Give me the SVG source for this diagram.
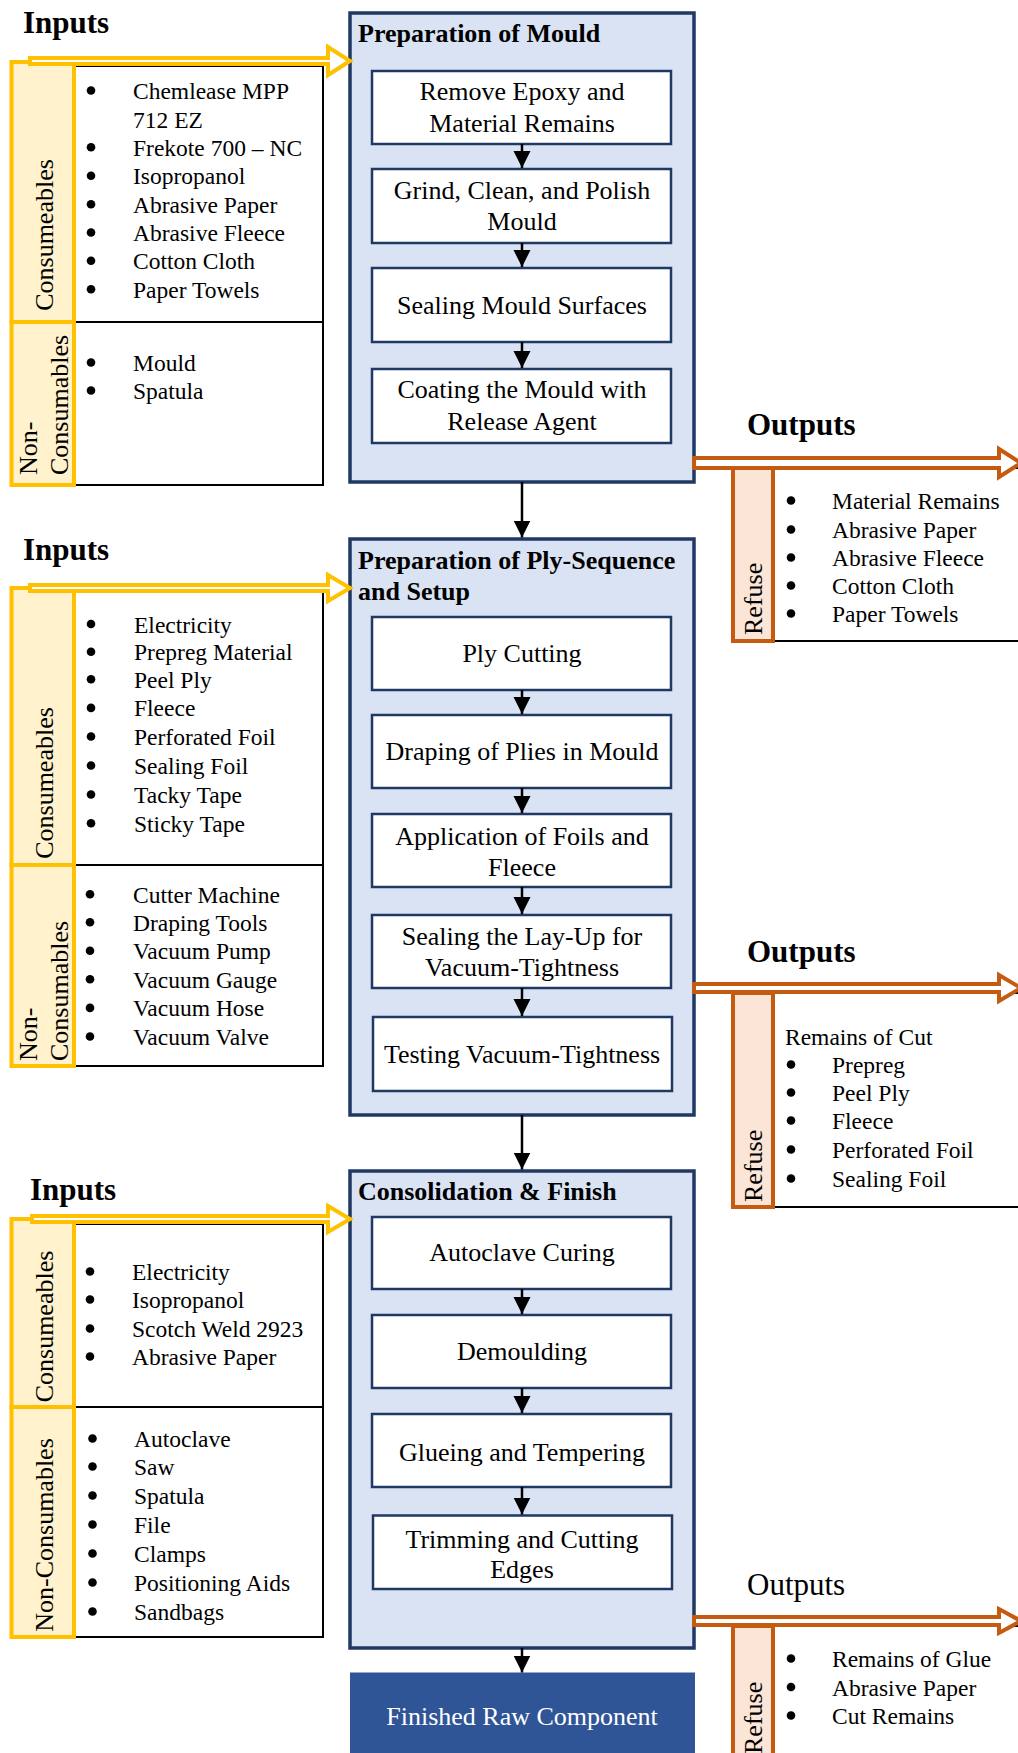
<svg xmlns="http://www.w3.org/2000/svg" width="1018" height="1753" viewBox="0 0 1018 1753">
<style>
text{font-family:"Liberation Serif","Times New Roman",serif;fill:#000}
.hd{font-size:31px;font-weight:bold}
.hr{font-size:31px}
.tt{font-size:26px;font-weight:bold}
.st{font-size:26px;text-anchor:middle}
.li{font-size:23.5px}
.vl{font-size:26px}
.main{fill:#DAE3F3;stroke:#203864;stroke-width:3.5}
.step{fill:#fff;stroke:#203864;stroke-width:2.5}
.ycol{fill:#FFF2CC;stroke:#FFC000;stroke-width:4}
.ocol{fill:#FBE5D6;stroke:#C55A11;stroke-width:4}
.lbox{fill:#fff;stroke:#000;stroke-width:2}
.yarr{fill:#fff;stroke:#FFC000;stroke-width:4}
.oarr{fill:#fff;stroke:#C55A11;stroke-width:4}
.flow{stroke:#000;stroke-width:2.5;fill:none;marker-end:url(#ah)}
.bul{fill:#000}
</style>
<defs>
<marker id="ah" markerWidth="18" markerHeight="18" refX="17" refY="8.5" orient="auto" markerUnits="userSpaceOnUse"><path d="M0,0 L17,8.5 L0,17 z" fill="#000"/></marker>
</defs>

<!-- Inputs panel 1 -->
<g id="inputs1">
<text class="hd" x="23" y="33">Inputs</text>
<rect class="lbox" x="75" y="66" width="248" height="419"/>
<line x1="75" y1="322" x2="323" y2="322" stroke="#000" stroke-width="2"/>
<rect class="ycol" x="11.5" y="62" width="62.5" height="260"/>
<rect class="ycol" x="11.5" y="322" width="62.5" height="163"/>
<text class="vl" transform="translate(52.5,235) rotate(-90)" text-anchor="middle">Consumeables</text>
<text class="vl" transform="translate(36.5,475) rotate(-90)">Non-</text>
<text class="vl" transform="translate(68,475) rotate(-90)">Consumables</text>
<circle class="bul" cx="91" cy="90.5" r="4.3"/><text class="li" x="133" y="99">Chemlease MPP</text>
<text class="li" x="133" y="127.7">712 EZ</text>
<circle class="bul" cx="91" cy="147.2" r="4.3"/><text class="li" x="133" y="155.7">Frekote 700 – NC</text>
<circle class="bul" cx="91" cy="175.8" r="4.3"/><text class="li" x="133" y="184.3">Isopropanol</text>
<circle class="bul" cx="91" cy="204.2" r="4.3"/><text class="li" x="133" y="212.7">Abrasive Paper</text>
<circle class="bul" cx="91" cy="232.5" r="4.3"/><text class="li" x="133" y="241">Abrasive Fleece</text>
<circle class="bul" cx="91" cy="260.8" r="4.3"/><text class="li" x="133" y="269.3">Cotton Cloth</text>
<circle class="bul" cx="91" cy="289.2" r="4.3"/><text class="li" x="133" y="297.7">Paper Towels</text>
<circle class="bul" cx="91" cy="362.5" r="4.3"/><text class="li" x="133" y="371">Mould</text>
<circle class="bul" cx="91" cy="390.5" r="4.3"/><text class="li" x="133" y="399">Spatula</text>
</g>

<!-- Inputs panel 2 -->
<g id="inputs2">
<text class="hd" x="23" y="560">Inputs</text>
<rect class="lbox" x="75" y="592" width="248" height="474"/>
<line x1="75" y1="865" x2="323" y2="865" stroke="#000" stroke-width="2"/>
<rect class="ycol" x="11.5" y="588" width="62.5" height="277"/>
<rect class="ycol" x="11.5" y="865" width="62.5" height="201"/>
<text class="vl" transform="translate(52.5,783) rotate(-90)" text-anchor="middle">Consumeables</text>
<text class="vl" transform="translate(36.5,1061) rotate(-90)">Non-</text>
<text class="vl" transform="translate(68,1061) rotate(-90)">Consumables</text>
<circle class="bul" cx="91" cy="624" r="4.3"/><text class="li" x="134" y="632.5">Electricity</text>
<circle class="bul" cx="91" cy="651.8" r="4.3"/><text class="li" x="134" y="660.3">Prepreg Material</text>
<circle class="bul" cx="91" cy="679.3" r="4.3"/><text class="li" x="134" y="687.8">Peel Ply</text>
<circle class="bul" cx="91" cy="707.9" r="4.3"/><text class="li" x="134" y="716.4">Fleece</text>
<circle class="bul" cx="91" cy="736.5" r="4.3"/><text class="li" x="134" y="745">Perforated Foil</text>
<circle class="bul" cx="91" cy="765.5" r="4.3"/><text class="li" x="134" y="774">Sealing Foil</text>
<circle class="bul" cx="91" cy="794.5" r="4.3"/><text class="li" x="134" y="803">Tacky Tape</text>
<circle class="bul" cx="91" cy="823.3" r="4.3"/><text class="li" x="134" y="831.8">Sticky Tape</text>
<circle class="bul" cx="90" cy="894.3" r="4.3"/><text class="li" x="133" y="902.8">Cutter Machine</text>
<circle class="bul" cx="90" cy="922.2" r="4.3"/><text class="li" x="133" y="930.7">Draping Tools</text>
<circle class="bul" cx="90" cy="950.8" r="4.3"/><text class="li" x="133" y="959.3">Vacuum Pump</text>
<circle class="bul" cx="90" cy="979.3" r="4.3"/><text class="li" x="133" y="987.8">Vacuum Gauge</text>
<circle class="bul" cx="90" cy="1007.9" r="4.3"/><text class="li" x="133" y="1016.4">Vacuum Hose</text>
<circle class="bul" cx="90" cy="1036.5" r="4.3"/><text class="li" x="133" y="1045">Vacuum Valve</text>
</g>

<!-- Inputs panel 3 -->
<g id="inputs3">
<text class="hd" x="30" y="1200">Inputs</text>
<rect class="lbox" x="75" y="1224" width="248" height="413"/>
<line x1="75" y1="1407" x2="323" y2="1407" stroke="#000" stroke-width="2"/>
<rect class="ycol" x="11.5" y="1219" width="62.5" height="188"/>
<rect class="ycol" x="11.5" y="1407" width="62.5" height="230"/>
<text class="vl" transform="translate(52.5,1326.5) rotate(-90)" text-anchor="middle">Consumeables</text>
<text class="vl" transform="translate(52.5,1535) rotate(-90)" text-anchor="middle">Non-Consumables</text>
<circle class="bul" cx="90" cy="1271.5" r="4.3"/><text class="li" x="132" y="1280">Electricity</text>
<circle class="bul" cx="90" cy="1299.5" r="4.3"/><text class="li" x="132" y="1308">Isopropanol</text>
<circle class="bul" cx="90" cy="1328.5" r="4.3"/><text class="li" x="132" y="1337">Scotch Weld 2923</text>
<circle class="bul" cx="90" cy="1356.5" r="4.3"/><text class="li" x="132" y="1365">Abrasive Paper</text>
<circle class="bul" cx="92.5" cy="1438.5" r="4.3"/><text class="li" x="134" y="1447">Autoclave</text>
<circle class="bul" cx="92.5" cy="1466.5" r="4.3"/><text class="li" x="134" y="1475">Saw</text>
<circle class="bul" cx="92.5" cy="1495.5" r="4.3"/><text class="li" x="134" y="1504">Spatula</text>
<circle class="bul" cx="92.5" cy="1524.5" r="4.3"/><text class="li" x="134" y="1533">File</text>
<circle class="bul" cx="92.5" cy="1553.5" r="4.3"/><text class="li" x="134" y="1562">Clamps</text>
<circle class="bul" cx="92.5" cy="1582.5" r="4.3"/><text class="li" x="134" y="1591">Positioning Aids</text>
<circle class="bul" cx="92.5" cy="1611.5" r="4.3"/><text class="li" x="134" y="1620">Sandbags</text>
</g>

<!-- Stage 1 -->
<g id="stage1">
<rect class="main" x="350" y="13" width="344" height="469"/>
<text class="tt" x="358" y="42">Preparation of Mould</text>
</g>
<g id="step1a"><rect class="step" x="372" y="71" width="299" height="73"/><text class="st" x="522" y="100">Remove Epoxy and</text><text class="st" x="522" y="132">Material Remains</text></g>
<g id="step1b"><rect class="step" x="372" y="169" width="299" height="74"/><text class="st" x="522" y="199">Grind, Clean, and Polish</text><text class="st" x="522" y="230">Mould</text></g>
<g id="step1c"><rect class="step" x="372" y="268" width="299" height="74"/><text class="st" x="522" y="314">Sealing Mould Surfaces</text></g>
<g id="step1d"><rect class="step" x="372" y="369" width="299" height="74"/><text class="st" x="522" y="398">Coating the Mould with</text><text class="st" x="522" y="430">Release Agent</text></g>

<!-- Stage 2 -->
<g id="stage2">
<rect class="main" x="350" y="539" width="344" height="576"/>
<text class="tt" x="358" y="569">Preparation of Ply-Sequence</text>
<text class="tt" x="358" y="600">and Setup</text>
</g>
<g id="step2a"><rect class="step" x="372" y="617" width="299" height="73"/><text class="st" x="522" y="662">Ply Cutting</text></g>
<g id="step2b"><rect class="step" x="372" y="715" width="299" height="73"/><text class="st" x="522" y="760">Draping of Plies in Mould</text></g>
<g id="step2c"><rect class="step" x="372" y="814" width="299" height="73"/><text class="st" x="522" y="844.5">Application of Foils and</text><text class="st" x="522" y="876">Fleece</text></g>
<g id="step2d"><rect class="step" x="372" y="915" width="299" height="73"/><text class="st" x="522" y="944.7">Sealing the Lay-Up for</text><text class="st" x="522" y="976">Vacuum-Tightness</text></g>
<g id="step2e"><rect class="step" x="373" y="1017" width="299" height="74"/><text class="st" x="522" y="1062.6">Testing Vacuum-Tightness</text></g>

<!-- Stage 3 -->
<g id="stage3">
<rect class="main" x="350" y="1171" width="344" height="477"/>
<text class="tt" x="358" y="1200">Consolidation &amp; Finish</text>
</g>
<g id="step3a"><rect class="step" x="372" y="1217" width="299" height="72"/><text class="st" x="522" y="1261">Autoclave Curing</text></g>
<g id="step3b"><rect class="step" x="372" y="1315" width="299" height="73"/><text class="st" x="522" y="1360">Demoulding</text></g>
<g id="step3c"><rect class="step" x="372" y="1414" width="299" height="73"/><text class="st" x="522" y="1461">Glueing and Tempering</text></g>
<g id="step3d"><rect class="step" x="373" y="1515.5" width="299" height="73.5"/><text class="st" x="522" y="1548">Trimming and Cutting</text><text class="st" x="522" y="1578">Edges</text></g>

<!-- Finished -->
<g id="finished">
<rect x="350" y="1672.5" width="345" height="90" fill="#2F5597"/>
<text class="st" x="522" y="1725" style="fill:#fff">Finished Raw Component</text>
</g>

<!-- Outputs panel 1 -->
<g id="outputs1">
<text class="hd" x="747" y="435">Outputs</text>
<rect class="lbox" x="773" y="468" width="260" height="173"/>
<rect class="ocol" x="733" y="468" width="40" height="173"/>
<text class="vl" transform="translate(762,635) rotate(-90)">Refuse</text>
<circle class="bul" cx="791" cy="500.5" r="4.3"/><text class="li" x="832" y="509">Material Remains</text>
<circle class="bul" cx="791" cy="529.5" r="4.3"/><text class="li" x="832" y="538">Abrasive Paper</text>
<circle class="bul" cx="791" cy="557.5" r="4.3"/><text class="li" x="832" y="566">Abrasive Fleece</text>
<circle class="bul" cx="791" cy="585.5" r="4.3"/><text class="li" x="832" y="594">Cotton Cloth</text>
<circle class="bul" cx="791" cy="613.5" r="4.3"/><text class="li" x="832" y="622">Paper Towels</text>
</g>

<!-- Outputs panel 2 -->
<g id="outputs2">
<text class="hd" x="747" y="962">Outputs</text>
<rect class="lbox" x="773" y="993" width="260" height="214"/>
<rect class="ocol" x="733" y="993" width="40" height="214"/>
<text class="vl" transform="translate(762,1202) rotate(-90)">Refuse</text>
<text class="li" x="785" y="1045">Remains of Cut</text>
<circle class="bul" cx="791" cy="1064.5" r="4.3"/><text class="li" x="832" y="1073">Prepreg</text>
<circle class="bul" cx="791" cy="1092.5" r="4.3"/><text class="li" x="832" y="1101">Peel Ply</text>
<circle class="bul" cx="791" cy="1120.5" r="4.3"/><text class="li" x="832" y="1129">Fleece</text>
<circle class="bul" cx="791" cy="1149.5" r="4.3"/><text class="li" x="832" y="1158">Perforated Foil</text>
<circle class="bul" cx="791" cy="1178.5" r="4.3"/><text class="li" x="832" y="1187">Sealing Foil</text>
</g>

<!-- Outputs panel 3 -->
<g id="outputs3">
<text class="hr" x="747" y="1595">Outputs</text>
<rect class="lbox" x="773" y="1626" width="260" height="140"/>
<rect class="ocol" x="733" y="1626" width="40" height="140"/>
<text class="vl" transform="translate(762,1754) rotate(-90)">Refuse</text>
<circle class="bul" cx="791" cy="1658.5" r="4.3"/><text class="li" x="832" y="1667">Remains of Glue</text>
<circle class="bul" cx="791" cy="1687" r="4.3"/><text class="li" x="832" y="1695.5">Abrasive Paper</text>
<circle class="bul" cx="791" cy="1715.5" r="4.3"/><text class="li" x="832" y="1724">Cut Remains</text>
</g>

<!-- Connectors -->
<g id="connectors">
<line class="flow" x1="522" y1="144" x2="522" y2="168"/>
<line class="flow" x1="522" y1="243" x2="522" y2="267"/>
<line class="flow" x1="522" y1="342" x2="522" y2="368"/>
<line class="flow" x1="522" y1="482" x2="522" y2="537.5"/>
<line class="flow" x1="522" y1="690" x2="522" y2="714"/>
<line class="flow" x1="522" y1="788" x2="522" y2="813"/>
<line class="flow" x1="522" y1="887" x2="522" y2="914"/>
<line class="flow" x1="522" y1="988" x2="522" y2="1016"/>
<line class="flow" x1="522" y1="1115" x2="522" y2="1169.5"/>
<line class="flow" x1="522" y1="1289" x2="522" y2="1314"/>
<line class="flow" x1="522" y1="1388" x2="522" y2="1413"/>
<line class="flow" x1="522" y1="1487" x2="522" y2="1514.5"/>
<line class="flow" x1="522" y1="1648" x2="522" y2="1672.5"/>
<path class="yarr" d="M30,58 H328 V47 L350,61 L328,75 V64 H30 Z"/>
<path class="yarr" d="M30,585 H328 V575 L350,588 L328,601 V591 H30 Z"/>
<path class="yarr" d="M32,1216 H328 V1206 L350,1219 L328,1232 V1222 H32 Z"/>
<path class="oarr" d="M694,458 H999 V449 L1021,463 L999,477 V468 H694 Z"/>
<path class="oarr" d="M694,984 H999 V975 L1021,988 L999,1001 V992 H694 Z"/>
<path class="oarr" d="M694,1617 H999 V1609 L1021,1621 L999,1633 V1625 H694 Z"/>
</g>
</svg>
